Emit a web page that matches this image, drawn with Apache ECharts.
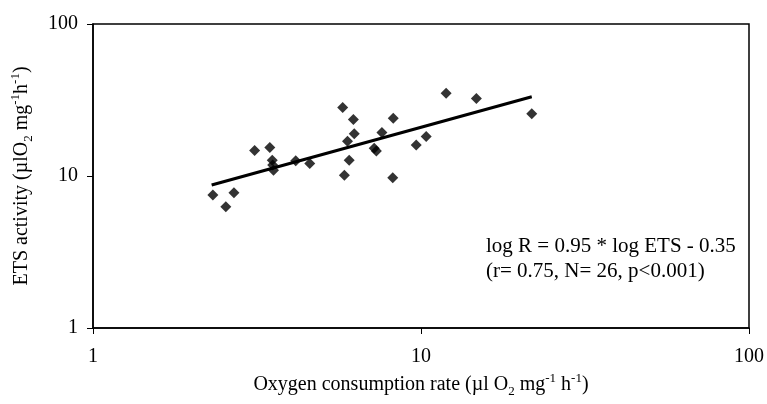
<!DOCTYPE html>
<html>
<head>
<meta charset="utf-8">
<script src="https://cdn.jsdelivr.net/npm/echarts@6/dist/echarts.min.js"></script>
<style>html,body{margin:0;padding:0;background:#fff}#c{width:767px;height:404px}</style>
</head>
<body>
<div id="c"></div>
<script>
// Oxygen consumption rate (x) and ETS activity (y)
var oxygenRate = [2.32, 2.69, 2.54, 3.11, 3.46, 3.52, 3.55, 3.53, 4.15, 4.58, 5.77, 6.22, 6.26,
  5.97, 6.04, 5.84, 7.20, 7.31, 7.60, 8.23, 8.20, 9.67, 10.37, 11.93, 14.75, 21.76];
var etsActivity = [7.50, 7.76, 6.28, 14.7, 15.4, 12.7, 10.9, 11.8, 12.6, 12.1, 28.2, 23.5, 19.0,
  16.9, 12.7, 10.1, 15.2, 14.6, 19.3, 24.0, 9.75, 16.0, 18.2, 35.0, 32.4, 25.7];
// Regression line end points
var fitX = [2.30, 21.76];
var fitY = [8.73, 33.2];
var xTicks = [1, 10, 100];
var yTicks = [1, 10, 100];
var eqLine1 = 'log R = 0.95 * log ETS - 0.35';
var eqLine2 = '(r= 0.75, N= 26, p<0.001)';

var font = '"Liberation Serif", "Times New Roman", serif';
var pts = oxygenRate.map(function (x, i) { return [x, etsActivity[i]]; });
var fit = fitX.map(function (x, i) { return [x, fitY[i]]; });

var chart = echarts.init(document.getElementById('c'), null, { renderer: 'canvas' });
function rich(fs) {
  return {
    a: { fontFamily: font, fontSize: fs, color: '#000', lineHeight: fs + 6, verticalAlign: 'middle' },
    sub: { fontFamily: font, fontSize: Math.round(fs * 0.65), color: '#000', lineHeight: fs + 2, verticalAlign: 'bottom' },
    sup: { fontFamily: font, fontSize: Math.round(fs * 0.65), color: '#000', lineHeight: fs + 4, verticalAlign: 'top' }
  };
}
chart.setOption({
  animation: false,
  backgroundColor: '#fff',
  grid: { left: 93, top: 24, right: 17, bottom: 76, show: true, borderColor: '#000', borderWidth: 1.5 },
  xAxis: {
    type: 'log', logBase: 10, min: 1, max: 100,
    name: '{a|Oxygen consumption rate (µl O}{sub|2}{a| mg}{sup|-1}{a| h}{sup|-1}{a|)}',
    nameLocation: 'middle', nameGap: 43,
    nameTextStyle: { rich: rich(20) },
    axisLine: { lineStyle: { color: '#000', width: 1.5 } },
    axisTick: { show: true, length: 6, lineStyle: { color: '#000', width: 1 } },
    minorTick: { show: false },
    splitLine: { show: false },
    axisLabel: { fontFamily: font, fontSize: 20, color: '#000', margin: 19,
      formatter: function (v) { return xTicks.indexOf(v) >= 0 ? String(v) : ''; } }
  },
  yAxis: {
    type: 'log', logBase: 10, min: 1, max: 100,
    name: '{a|ETS activity (µlO}{sub|2}{a| mg}{sup|-1}{a|h}{sup|-1}{a|)}',
    nameLocation: 'middle', nameGap: 58, nameRotate: 90,
    nameTextStyle: { rich: rich(20) },
    axisLine: { lineStyle: { color: '#000', width: 1.5 } },
    axisTick: { show: true, length: 6, lineStyle: { color: '#000', width: 1 } },
    minorTick: { show: false },
    splitLine: { show: false },
    axisLabel: { fontFamily: font, fontSize: 20, color: '#000', margin: 15,
      formatter: function (v) { return yTicks.indexOf(v) >= 0 ? String(v) : ''; } }
  },
  series: [
    {
      type: 'line', data: fit, symbol: 'none', silent: true,
      lineStyle: { color: '#000', width: 3 }, z: 2
    },
    {
      type: 'scatter', data: pts, symbol: 'diamond', symbolSize: 11,
      itemStyle: { color: '#000' }, z: 3
    }
  ],
  graphic: [
    { type: 'text', left: 486, top: 236,
      style: { text: eqLine1, fontFamily: font, fontSize: 21, fill: '#000' } },
    { type: 'text', left: 486, top: 261,
      style: { text: eqLine2, fontFamily: font, fontSize: 21, fill: '#000' } }
  ]
});
</script>
</body>
</html>
